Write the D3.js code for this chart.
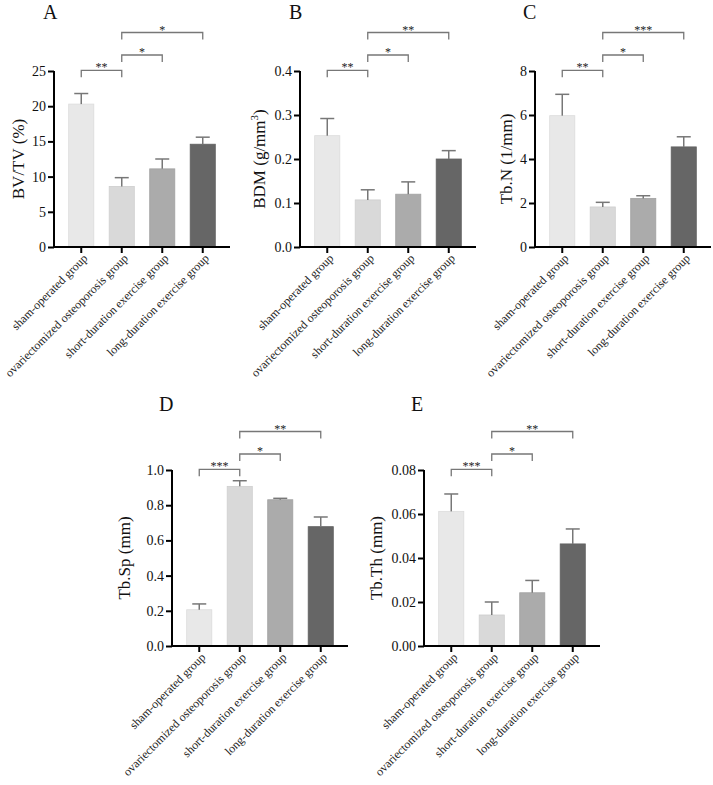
<!DOCTYPE html>
<html>
<head>
<meta charset="utf-8">
<script src="https://cdn.jsdelivr.net/npm/d3@7"></script>
<style>
  body { margin: 0; background: #fff; }
  text { font-family: "Liberation Serif", "Times New Roman", serif; }
</style>
</head>
<body>
<svg id="chart" width="713" height="785"></svg>
<script>
// groups shared by all five panels
const groups = [
  "sham-operated group",
  "ovariectomized osteoporosis group",
  "short-duration exercise group",
  "long-duration exercise group"
];
const barColors = ["#e8e8e8", "#d9d9d9", "#ababab", "#666666"];

// means and upper error (SD) per panel
const bvtvMean = [20.3, 8.6, 11.1, 14.6];
const bvtvErr = [1.5, 1.25, 1.4, 1.0];
const bdmMean = [0.253, 0.107, 0.120, 0.200];
const bdmErr = [0.039, 0.023, 0.028, 0.019];
const tbnMean = [5.97, 1.82, 2.21, 4.55];
const tbnErr = [0.97, 0.21, 0.12, 0.46];
const tbspMean = [0.206, 0.907, 0.831, 0.678];
const tbspErr = [0.033, 0.032, 0.008, 0.055];
const tbthMean = [0.0612, 0.0141, 0.0242, 0.0464];
const tbthErr = [0.0079, 0.0059, 0.0056, 0.0068];

// y tick values
const bvtvTicks = [0, 5, 10, 15, 20, 25];
const bdmTicks = [0, 0.1, 0.2, 0.3, 0.4];
const tbnTicks = [0, 2, 4, 6, 8];
const tbspTicks = [0, 0.2, 0.4, 0.6, 0.8, 1.0];
const tbthTicks = [0, 0.02, 0.04, 0.06, 0.08];

// significance brackets: [from, to, label]
const bvtvSig = [[0, 1, "**"], [1, 2, "*"], [1, 3, "*"]];
const bdmSig = [[0, 1, "**"], [1, 2, "*"], [1, 3, "**"]];
const tbnSig = [[0, 1, "**"], [1, 2, "*"], [1, 3, "***"]];
const tbspSig = [[0, 1, "***"], [1, 2, "*"], [1, 3, "**"]];
const tbthSig = [[0, 1, "***"], [1, 2, "*"], [1, 3, "**"]];

const svg = d3.select("#chart");

const panels = [
  { letter: "A", x0: 54, top: 71, title: "BV/TV (%)", titleX: 18, letterX: 43, letterY: 18.5,
    mean: bvtvMean, err: bvtvErr, ticks: bvtvTicks, sig: bvtvSig, fmt: d3.format("d") },
  { letter: "B", x0: 300, top: 71, title: "BDM", titleX: 259, letterX: 289, letterY: 18.5,
    mean: bdmMean, err: bdmErr, ticks: bdmTicks, sig: bdmSig, fmt: d3.format(".1f") },
  { letter: "C", x0: 535, top: 71, title: "Tb.N (1/mm)", titleX: 506, letterX: 523, letterY: 18.5,
    mean: tbnMean, err: tbnErr, ticks: tbnTicks, sig: tbnSig, fmt: d3.format("d") },
  { letter: "D", x0: 172, top: 470, title: "Tb.Sp (mm)", titleX: 124, letterX: 159, letterY: 411,
    mean: tbspMean, err: tbspErr, ticks: tbspTicks, sig: tbspSig, fmt: d3.format(".1f") },
  { letter: "E", x0: 424, top: 470, title: "Tb.Th (mm)", titleX: 376, letterX: 411, letterY: 411,
    mean: tbthMean, err: tbthErr, ticks: tbthTicks, sig: tbthSig, fmt: d3.format(".2f") }
];

panels.forEach(drawPanel);

function drawPanel(p) {
  const plotW = 176;
  const plotH = 176;
  const bottom = p.top + plotH;

  const x = d3.scaleBand()
    .domain(groups)
    .range([p.x0, p.x0 + plotW])
    .paddingInner(0.38)
    .paddingOuter(0.363);
  const y = d3.scaleLinear()
    .domain([0, d3.max(p.ticks)])
    .range([bottom, p.top]);

  const g = svg.append("g");

  // panel letter
  g.append("text")
    .attr("x", p.letterX)
    .attr("y", p.letterY)
    .attr("font-size", 20)
    .attr("fill", "#111")
    .text(p.letter);

  // bars
  g.selectAll("rect.bar")
    .data(groups)
    .join("rect")
    .attr("class", "bar")
    .attr("x", (d) => x(d))
    .attr("width", x.bandwidth())
    .attr("y", (d, i) => y(p.mean[i]))
    .attr("height", (d, i) => bottom - y(p.mean[i]))
    .attr("fill", (d, i) => barColors[i])
    .attr("stroke", (d, i) => d3.color(barColors[i]).darker(0.15))
    .attr("stroke-width", 0.8);

  // error bars (upper only)
  const eb = g.selectAll("g.err")
    .data(groups)
    .join("g")
    .attr("class", "err")
    .attr("stroke", "#777")
    .attr("stroke-width", 1.5);
  eb.append("line")
    .attr("x1", (d) => x(d) + x.bandwidth() / 2)
    .attr("x2", (d) => x(d) + x.bandwidth() / 2)
    .attr("y1", (d, i) => y(p.mean[i]))
    .attr("y2", (d, i) => y(p.mean[i] + p.err[i]));
  eb.append("line")
    .attr("x1", (d) => x(d) + x.bandwidth() / 2 - 7)
    .attr("x2", (d) => x(d) + x.bandwidth() / 2 + 7)
    .attr("y1", (d, i) => y(p.mean[i] + p.err[i]))
    .attr("y2", (d, i) => y(p.mean[i] + p.err[i]));

  // y axis
  const yAxis = g.append("g")
    .attr("transform", `translate(${p.x0},0)`)
    .call(d3.axisLeft(y).tickValues(p.ticks).tickFormat(p.fmt).tickSize(6).tickSizeOuter(0).tickPadding(2));
  // x axis
  const xAxis = g.append("g")
    .attr("transform", `translate(0,${bottom})`)
    .call(d3.axisBottom(x).tickSize(6).tickSizeOuter(0).tickFormat(""));
  [yAxis, xAxis].forEach((ax) => {
    ax.attr("font-family", null);
    ax.select(".domain").attr("stroke", "#000").attr("stroke-width", 2);
    ax.selectAll(".tick line").attr("stroke", "#000").attr("stroke-width", 2);
  });
  yAxis.select(".domain").attr("d", `M0,${bottom + 1}V${p.top}`);
  xAxis.select(".domain").attr("d", `M${p.x0 - 1},0H${p.x0 + plotW}`);
  yAxis.selectAll(".tick text")
    .attr("font-size", 14)
    .attr("fill", "#111");

  // rotated group labels
  g.selectAll("text.grp")
    .data(groups)
    .join("text")
    .attr("class", "grp")
    .attr("text-anchor", "end")
    .attr("font-size", 12)
    .attr("fill", "#222")
    .attr("transform", (d) => `translate(${x(d) + x.bandwidth() / 2 + 7},${bottom + 12}) rotate(-45)`)
    .text((d) => d);

  // y title
  const title = g.append("text")
    .attr("text-anchor", "middle")
    .attr("font-size", 17)
    .attr("fill", "#111")
    .attr("transform", `translate(${p.titleX},${(p.top + bottom) / 2}) rotate(-90)`)
    .attr("dy", "0.35em")
    .text(p.title);
  if (p.letter === "B") {
    title.append("tspan").text(" (g/mm");
    title.append("tspan").attr("font-size", 11).attr("dy", "-0.6em").text("3");
    title.append("tspan").attr("dy", "0.4em").text(")");
  }

  // significance brackets
  const levels = [0.7, 16, 38.5];
  p.sig.forEach(([a, b, label], k) => {
    const by = p.top - levels[k];
    const xa = x(groups[a]) + x.bandwidth() / 2;
    const xb = x(groups[b]) + x.bandwidth() / 2;
    g.append("path")
      .attr("d", `M${xa},${by + 7}V${by}H${xb}V${by + 7}`)
      .attr("fill", "none")
      .attr("stroke", "#777")
      .attr("stroke-width", 1.3);
    g.append("text")
      .attr("x", (xa + xb) / 2)
      .attr("y", by + 1)
      .attr("text-anchor", "middle")
      .attr("font-size", 12)
      .attr("fill", "#222")
      .text(label);
  });
}
</script>
</body>
</html>
